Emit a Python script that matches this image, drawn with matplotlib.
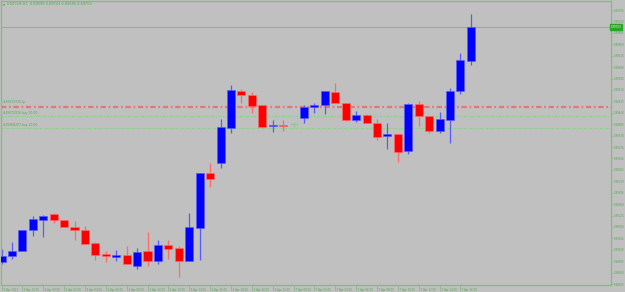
import matplotlib
matplotlib.use("Agg")
import matplotlib.pyplot as plt
import matplotlib.transforms as mtransforms
import numpy as np

symbol = "USDCHF,H1"

opens = [0.88982, 0.89001, 0.89016, 0.89081, 0.89111, 0.89130, 0.89111, 0.89090, 0.89081, 0.89041,
         0.89007, 0.88998, 0.89004, 0.88970, 0.89016, 0.88986, 0.89035, 0.89025, 0.88986, 0.89087,
         0.89255, 0.89286, 0.89393, 0.89507, 0.89494, 0.89464, 0.89399, 0.89402, 0.89406, 0.89424,
         0.89458, 0.89464, 0.89504, 0.89470, 0.89418, 0.89433, 0.89409, 0.89369, 0.89375, 0.89323,
         0.89467, 0.89430, 0.89384, 0.89418, 0.89507, 0.89599]
highs = [0.89022, 0.89044, 0.89081, 0.89124, 0.89127, 0.89133, 0.89111, 0.89108, 0.89093, 0.89044,
         0.89016, 0.89019, 0.89032, 0.89025, 0.89074, 0.89050, 0.89050, 0.89032, 0.89133, 0.89255,
         0.89286, 0.89421, 0.89525, 0.89513, 0.89504, 0.89464, 0.89418, 0.89418, 0.89412, 0.89464,
         0.89470, 0.89507, 0.89531, 0.89470, 0.89445, 0.89436, 0.89421, 0.89409, 0.89375, 0.89470,
         0.89476, 0.89430, 0.89442, 0.89516, 0.89623, 0.89743]
lows = [0.88976, 0.88992, 0.89016, 0.89062, 0.89059, 0.89102, 0.89090, 0.89050, 0.89038, 0.88989,
        0.88982, 0.88986, 0.88976, 0.88961, 0.88970, 0.88976, 0.88992, 0.88937, 0.88986, 0.88989,
        0.89212, 0.89271, 0.89378, 0.89470, 0.89439, 0.89393, 0.89381, 0.89384, 0.89396, 0.89409,
        0.89439, 0.89436, 0.89470, 0.89415, 0.89412, 0.89409, 0.89357, 0.89329, 0.89289, 0.89314,
        0.89399, 0.89378, 0.89378, 0.89347, 0.89497, 0.89586]
closes = [0.89001, 0.89016, 0.89081, 0.89114, 0.89124, 0.89111, 0.89090, 0.89081, 0.89038, 0.89004,
          0.89001, 0.89004, 0.88976, 0.89013, 0.88986, 0.89035, 0.89022, 0.88986, 0.89090, 0.89255,
          0.89237, 0.89396, 0.89510, 0.89494, 0.89461, 0.89396, 0.89402, 0.89399, 0.89406, 0.89458,
          0.89464, 0.89507, 0.89470, 0.89418, 0.89433, 0.89409, 0.89366, 0.89375, 0.89320, 0.89467,
          0.89430, 0.89384, 0.89421, 0.89507, 0.89602, 0.89703]

xtick_labels = ["13 Apr 2023", "13 Apr 22:00", "14 Apr 00:00", "14 Apr 02:00", "14 Apr 04:00",
                "14 Apr 06:00", "14 Apr 08:00", "14 Apr 10:00", "14 Apr 12:00", "14 Apr 14:00",
                "14 Apr 16:00", "14 Apr 18:00", "14 Apr 20:00", "14 Apr 22:00", "17 Apr 00:00",
                "17 Apr 02:00", "17 Apr 04:00", "17 Apr 06:00", "17 Apr 08:00", "17 Apr 10:00",
                "17 Apr 12:00", "17 Apr 14:00", "17 Apr 16:00"]
ytick_values = [0.89755, 0.89720, 0.89685, 0.89650, 0.89615, 0.89580, 0.89545, 0.89510, 0.89475,
                0.89440, 0.89405, 0.89370, 0.89335, 0.89300, 0.89265, 0.89230, 0.89195, 0.89160,
                0.89125, 0.89090, 0.89055, 0.89020, 0.88985, 0.88950, 0.88915]

order_levels = [0.89458, 0.89430, 0.89393]
order_labels = ["#45672916 tp", "#45672916 buy 10.00", "#45668207 buy 10.00"]
order_colors = ["#e07878", "#86d486", "#86d486"]

BG = "#c0c0c0"
FRAME = "#7dbd7d"
TXT = "#55a555"
BULL = "#0000ff"
BEAR = "#ff0000"

fig = plt.figure(figsize=(6.25, 2.92), dpi=100, facecolor=BG)
ax = fig.add_axes([1 / 625, 7 / 292, 610 / 625, 284 / 292])
ax.set_facecolor(BG)

n = len(opens)
x = np.arange(n)
o = np.array(opens); h = np.array(highs); l = np.array(lows); c = np.array(closes)
w = 0.77
for i in range(n):
    if c[i] > o[i]:
        col, wcol = BULL, "#5a5aff"
    elif c[i] < o[i]:
        col, wcol = BEAR, "#ff6a6a"
    else:
        col, wcol = "#8fc88f", "#8fc88f"
    ax.vlines(x[i], l[i], h[i], color=wcol, lw=0.9, zorder=2)
    if c[i] != o[i]:
        ax.bar(x[i], abs(c[i] - o[i]), bottom=min(o[i], c[i]), width=w,
               color=col, edgecolor=wcol, linewidth=0.5, zorder=3)
    else:
        ax.hlines(o[i], x[i] - w / 2, x[i] + w / 2, color=col, lw=0.9, zorder=3)

# current price line
ax.axhline(closes[-1], color="#a4a4a4", lw=0.8, zorder=1)

# order lines
ax.axhline(order_levels[0], color=order_colors[0], lw=1.6, dashes=(2.4, 1.2, 0.8, 1.2), zorder=1)
ax.axhline(order_levels[1], color=order_colors[1], lw=0.9, dashes=(2.4, 1.2, 0.8, 1.2), zorder=1)
ax.axhline(order_levels[2], color=order_colors[2], lw=0.7, dashes=(2.4, 1.2, 0.8, 1.2), zorder=1)
tr = mtransforms.blended_transform_factory(ax.transAxes, ax.transData)
offs = [0.00008, 0.00002, 0.00002]
for lv, lb, of in zip(order_levels, order_labels, offs):
    ax.text(2 / 610, lv + of, lb, transform=tr, fontsize=2.2, color=TXT, va="bottom", ha="left")

ax.set_xlim(-0.048, 58.44)
ax.set_ylim(0.889120, 0.897826)

for s in ax.spines.values():
    s.set_color(FRAME)
    s.set_linewidth(0.9)

ax.set_xticks(x[0:45:2])
ax.set_xticklabels(xtick_labels, ha="left", fontsize=1.9, color=TXT)
ax.tick_params(axis="x", direction="out", length=1.8, width=0.5, color=FRAME, pad=0.6)
ax.yaxis.tick_right()
ax.set_yticks(ytick_values)
ax.set_yticklabels([f"{v:.5f}" for v in ytick_values], fontsize=1.9, color=TXT)
ax.tick_params(axis="y", direction="out", length=1.5, width=0.5, color=FRAME, pad=0.6)

# current price tag
ax.text(1.0, closes[-1], f"{closes[-1]:.5f}", transform=tr, fontsize=1.9, color="#e8ffe8",
        va="center", ha="left",
        bbox=dict(boxstyle="square,pad=0.25", facecolor="#2aa52a", edgecolor="#2aa52a"))

# header
fig.text(3 / 625, 1 - 4 / 292, "\u25be", fontsize=2.8, color="#3f9f3f", va="center", ha="left")
fig.text(7 / 625, 1 - 4 / 292,
         f"{symbol}  {opens[-1]:.5f} {highs[-1]:.5f} {lows[-1]:.5f} {closes[-1]:.5f}",
         fontsize=2.5, color=TXT, va="center", ha="left")

fig.savefig("out.png", dpi=100, facecolor=BG)
